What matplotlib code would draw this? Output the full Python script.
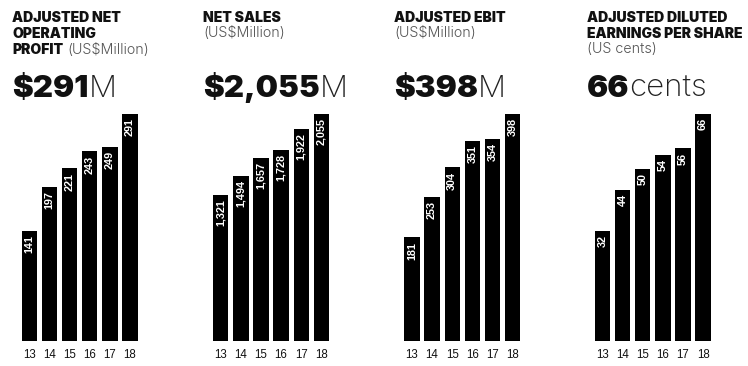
import matplotlib
matplotlib.use("Agg")
import matplotlib.pyplot as plt

W, H = 748, 366
years = ["13", "14", "15", "16", "17", "18"]
net_operating_profit = [141, 197, 221, 243, 249, 291]
net_sales = [1321, 1494, 1657, 1728, 1922, 2055]
adjusted_ebit = [181, 253, 304, 351, 354, 398]
eps_cents = [32, 44, 50, 54, 56, 66]

value_labels = [
    ["141", "197", "221", "243", "249", "291"],
    ["1,321", "1,494", "1,657", "1,728", "1,922", "2,055"],
    ["181", "253", "304", "351", "354", "398"],
    ["32", "44", "50", "54", "56", "66"],
]
titles = [
    ["ADJUSTED NET", "OPERATING", "PROFIT"],
    ["NET SALES"],
    ["ADJUSTED EBIT"],
    ["ADJUSTED DILUTED", "EARNINGS PER SHARE"],
]
units = ["(US$Million)", "(US$Million)", "(US$Million)", "(US cents)"]
big_values = ["$291", "$2,055", "$398", "66"]
big_suffix = ["M", "M", "M", "cents"]
series = [net_operating_profit, net_sales, adjusted_ebit, eps_cents]

HEAD = "Inter"
fig = plt.figure(figsize=(W / 100, H / 100), dpi=100)
fig.patch.set_facecolor("white")

text_x = [12, 203, 394, 587]
first_center = [29.5, 220.8, 412.0, 602.6]
pitch = 20.1
bar_bottom = 340.5
bar_top = 114.0

def fx(x):
    return x / W

def fy(y):
    return 1 - y / H

for i in range(4):
    left = first_center[i] - pitch / 2
    ax = fig.add_axes([fx(left), fy(bar_bottom), 6 * pitch / W, (bar_bottom - bar_top) / H])
    vals = series[i]
    xs = list(range(len(years)))
    ax.bar(xs, vals, width=0.76, color="#000000")
    ax.set_xlim(-0.5, 5.5)
    ax.set_ylim(0, max(vals))
    for s in ax.spines.values():
        s.set_visible(False)
    ax.set_yticks([])
    ax.set_xticks(xs)
    ax.set_xticklabels(years, fontsize=8.3, family="Liberation Sans", color="#111111")
    ax.tick_params(axis="x", length=0, pad=6)
    for x, v, lab in zip(xs, vals, value_labels[i]):
        ax.annotate(lab, xy=(x, v), xytext=(0, -3), textcoords="offset points",
                    rotation=90, ha="center", va="top", color="white",
                    fontsize=7.8, fontweight="bold", family="Liberation Sans")

fig.canvas.draw()
renderer = fig.canvas.get_renderer()

title_fs = 10.1
for i in range(4):
    x0 = text_x[i]
    lines = titles[i]
    last = None
    for k, line in enumerate(lines):
        last = fig.text(fx(x0), fy(21.5 + 16 * k), line, fontsize=title_fs,
                        fontweight=900, family=HEAD, color="#111111", va="baseline")
    if i == 0:
        fig.canvas.draw()
        bb = last.get_window_extent(renderer)
        fig.text(bb.x1 / W + 4 / W, fy(53.5), units[i], fontsize=10.3, fontweight=300,
                 family=HEAD, color="#555555", va="baseline")
    else:
        yb = 21.5 + 16 * len(lines)
        fig.text(fx(x0), fy(yb - 0.5), units[i], fontsize=10.3, fontweight=300,
                 family=HEAD, color="#555555", va="baseline")
    bt = fig.text(fx(x0), fy(97), big_values[i], fontsize=22.5, fontweight=900,
                  family=HEAD, color="#111111", va="baseline")
    fig.canvas.draw()
    bb = bt.get_window_extent(renderer)
    fig.text(bb.x1 / W, fy(97), big_suffix[i], fontsize=22.5, fontweight=200,
             family=HEAD, color="#222222", va="baseline")

fig.savefig("out.png", dpi=100)
